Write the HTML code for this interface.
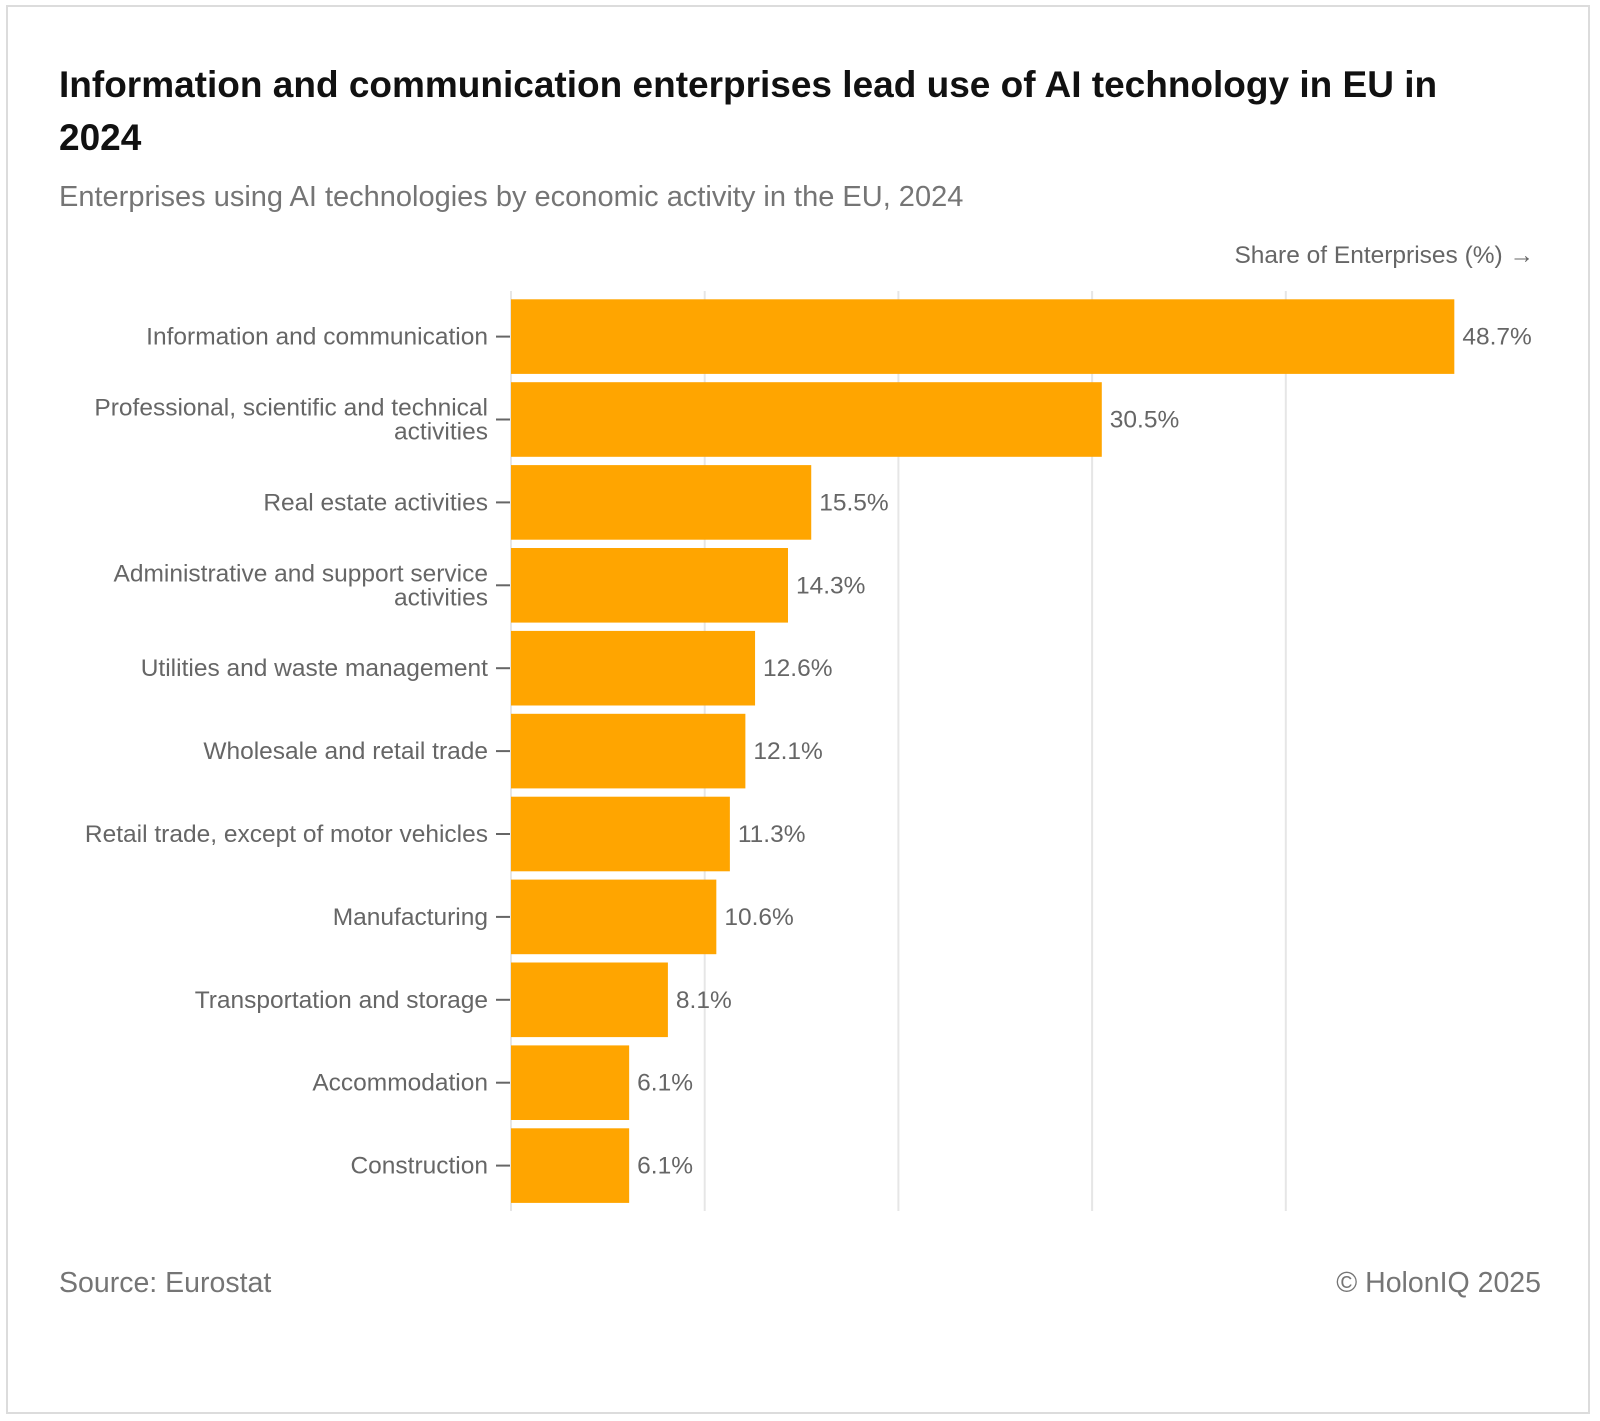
<!DOCTYPE html>
<html><head><meta charset="utf-8">
<style>
html,body{margin:0;padding:0;background:#fff;}
body{width:1600px;height:1421px;overflow:hidden;position:relative;font-family:"Liberation Sans",sans-serif;}
.frame{position:absolute;left:6px;top:5px;width:1584px;height:1409px;border:2px solid #dcdcdc;box-sizing:border-box;}
</style></head>
<body>
<div class="frame"></div>
<svg id="chart" width="1600" height="1421" style="position:absolute;left:0;top:0">
<text x="59" y="97" font-size="37" font-weight="bold" fill="#111">Information and communication enterprises lead use of AI technology in EU in</text>
<text x="59" y="150" font-size="37" font-weight="bold" fill="#111">2024</text>
<text x="59" y="206" font-size="29" fill="#757575">Enterprises using AI technologies by economic activity in the EU, 2024</text>
<text x="1534" y="263" font-size="24.5" fill="#666" text-anchor="end">Share of Enterprises (%) →</text>
<g id="grid"></g>
<g id="bars"></g>
<text x="59" y="1292" font-size="28.5" fill="#757575">Source: Eurostat</text>
<text x="1541" y="1292" font-size="28.5" fill="#757575" text-anchor="end">© HolonIQ 2025</text>
</svg>
<script>
const categories = [
  ["Information and communication"],
  ["Professional, scientific and technical","activities"],
  ["Real estate activities"],
  ["Administrative and support service","activities"],
  ["Utilities and waste management"],
  ["Wholesale and retail trade"],
  ["Retail trade, except of motor vehicles"],
  ["Manufacturing"],
  ["Transportation and storage"],
  ["Accommodation"],
  ["Construction"]
];
const values = [48.7, 30.5, 15.5, 14.3, 12.6, 12.1, 11.3, 10.6, 8.1, 6.1, 6.1];
const gridTicks = [0, 10, 20, 30, 40];

const NS = "http://www.w3.org/2000/svg";
const x0 = 511, pxPerUnit = 19.37;
const yTop = 291, step = 82.9, pad = 8.3;
const xs = v => x0 + v * pxPerUnit;
const bandY = i => yTop + pad + i * step;
const barH = step - pad;

const grid = document.getElementById('grid');
gridTicks.forEach(t => {
  const l = document.createElementNS(NS, 'line');
  l.setAttribute('x1', xs(t)); l.setAttribute('x2', xs(t));
  l.setAttribute('y1', 291); l.setAttribute('y2', 1211);
  l.setAttribute('stroke', '#e6e6e6'); l.setAttribute('stroke-width', '2');
  
  
  grid.appendChild(l);
});

const bars = document.getElementById('bars');
values.forEach((v, i) => {
  const y = bandY(i);
  const cy = y + barH / 2;
  const r = document.createElementNS(NS, 'rect');
  r.setAttribute('x', xs(0)); r.setAttribute('y', y);
  r.setAttribute('width', xs(v) - xs(0)); r.setAttribute('height', barH);
  r.setAttribute('fill', '#ffa500');
  
  
  bars.appendChild(r);

  const tk = document.createElementNS(NS, 'line');
  tk.setAttribute('x1', 496); tk.setAttribute('x2', 510);
  tk.setAttribute('y1', cy); tk.setAttribute('y2', cy);
  tk.setAttribute('stroke', '#666'); tk.setAttribute('stroke-width', '2');
  
  
  bars.appendChild(tk);

  const lines = categories[i];
  const lab = document.createElementNS(NS, 'text');
  lab.setAttribute('text-anchor', 'end');
  lab.setAttribute('font-size', '24.5');
  lab.setAttribute('fill', '#666');
  
  
  const startY = cy + 8 - (lines.length - 1) * 12;
  lines.forEach((s, j) => {
    const ts = document.createElementNS(NS, 'tspan');
    ts.setAttribute('x', 488);
    ts.setAttribute('y', startY + j * 24);
    ts.textContent = s;
    lab.appendChild(ts);
  });
  bars.appendChild(lab);

  const vl = document.createElementNS(NS, 'text');
  vl.setAttribute('x', xs(v) + 8); vl.setAttribute('y', cy + 8);
  vl.setAttribute('font-size', '24.5'); vl.setAttribute('fill', '#666');
  vl.textContent = v.toFixed(1) + '%';
  
  
  bars.appendChild(vl);
});
</script>
</body></html>
